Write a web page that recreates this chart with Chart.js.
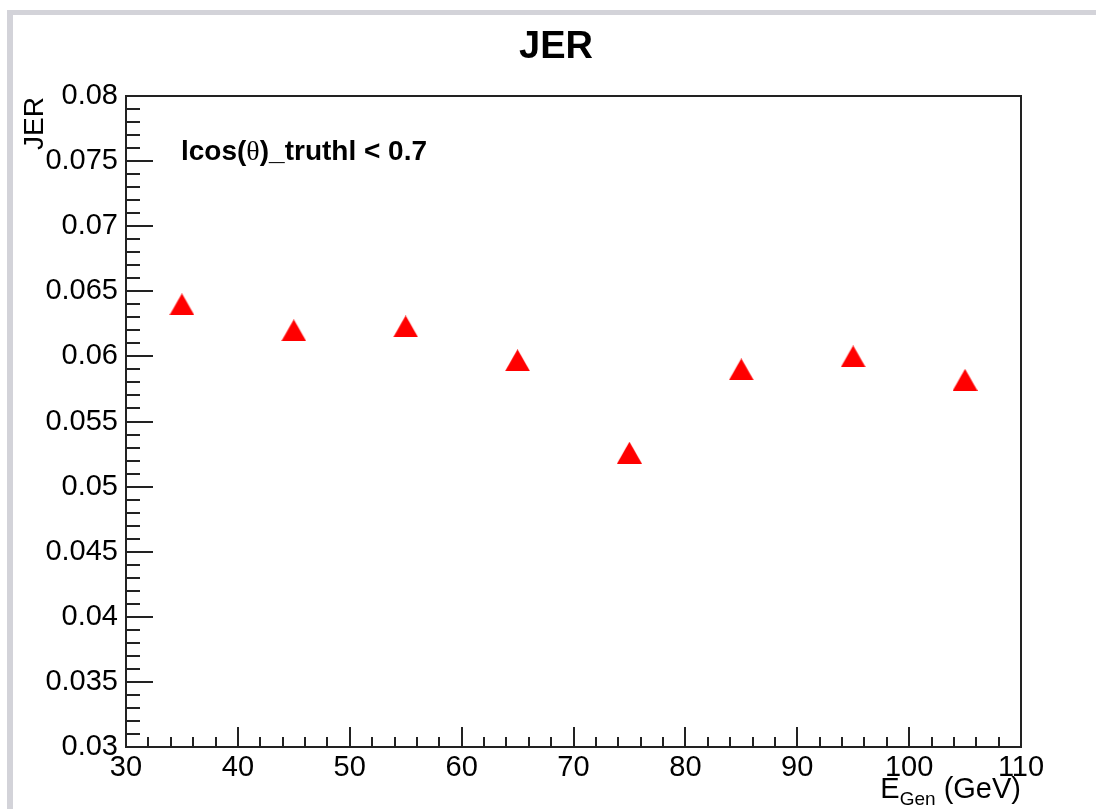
<!DOCTYPE html>
<html>
<head>
<meta charset="utf-8">
<title>JER</title>
<script src="https://cdn.jsdelivr.net/npm/chart.js@4.4.1/dist/chart.umd.min.js"></script>
<style>
  html, body { margin: 0; padding: 0; background: #fff; }
  #contenedor { position: relative; width: 1096px; height: 809px; }
</style>
</head>
<body>
<div id="contenedor"><canvas id="grafico-jer"></canvas></div>
<script>
// Datos: energía generada (GeV) y resolución en energía del jet
const energias = [35, 45, 55, 65, 75, 85, 95, 105];
const valoresJer = [0.0640, 0.0620, 0.0623, 0.0597, 0.0526, 0.0590, 0.0600, 0.0582];

// Marcas de los ejes
const ticksX = [30, 40, 50, 60, 70, 80, 90, 100, 110];
const ticksY = [0.03, 0.035, 0.04, 0.045, 0.05, 0.055, 0.06, 0.065, 0.07, 0.075, 0.08];
const etiquetasY = ['0.03', '0.035', '0.04', '0.045', '0.05', '0.055', '0.06', '0.065', '0.07', '0.075', '0.08'];

const tituloGrafico = 'JER';
const tituloEjeY = 'JER';

document.addEventListener('DOMContentLoaded', function() {
    const lienzo = document.getElementById('grafico-jer');
    const fuente = '"Liberation Sans", Arial, Helvetica, sans-serif';
    const colorMarco = '#222';

    // Triángulo rojo como marcador (centrado en su caja)
    function crearTriangulo() {
        const c = document.createElement('canvas');
        c.width = 25;
        c.height = 22;
        const g = c.getContext('2d');
        g.fillStyle = '#f00';
        g.beginPath();
        g.moveTo(12.5, 0);
        g.lineTo(25, 22);
        g.lineTo(0, 22);
        g.closePath();
        g.fill();
        return c;
    }

    // Fondo, marco, marcas interiores y textos al estilo ROOT
    const marcoRoot = {
        id: 'marcoRoot',
        beforeDraw(chart) {
            const ctx = chart.ctx;
            ctx.save();
            ctx.fillStyle = '#fff';
            ctx.fillRect(0, 0, chart.width, chart.height);
            ctx.fillStyle = '#d3d3d9';
            ctx.fillRect(7, 10, chart.width - 7, 5);
            ctx.fillRect(7, 10, 6, chart.height - 10);
            ctx.restore();
        },
        afterDraw(chart) {
            const ctx = chart.ctx;
            const a = chart.chartArea;
            const x = chart.scales.x;
            const y = chart.scales.y;
            ctx.save();

            ctx.strokeStyle = colorMarco;
            ctx.lineWidth = 2;
            ctx.strokeRect(a.left, a.top, a.right - a.left, a.bottom - a.top);

            // marcas hacia dentro: principales y secundarias
            ctx.beginPath();
            for (let v = x.min; v <= x.max + 1e-9; v += 2) {
                const px = Math.round(x.getPixelForValue(v));
                const largo = Math.abs(v % 10) < 1e-9 ? 20 : 10;
                ctx.moveTo(px, a.bottom);
                ctx.lineTo(px, a.bottom - largo);
            }
            for (let i = 0; i <= 50; i++) {
                const py = Math.round(y.getPixelForValue(y.min + i * 0.001));
                const largo = i % 5 === 0 ? 27 : 14;
                ctx.moveTo(a.left, py);
                ctx.lineTo(a.left + largo, py);
            }
            ctx.stroke();

            ctx.fillStyle = '#000';
            ctx.textBaseline = 'alphabetic';

            // título
            ctx.font = 'bold 38px ' + fuente;
            ctx.textAlign = 'center';
            ctx.fillText(tituloGrafico, 556, 58);

            // texto del corte angular
            ctx.textAlign = 'left';
            let cx = 181;
            const partes = [
                ['lcos(', 'bold 28px ' + fuente],
                ['\u03b8', '28px "Liberation Serif", "Times New Roman", serif'],
                [')_truthl < 0.7', 'bold 28px ' + fuente]
            ];
            partes.forEach(([txt, f]) => {
                ctx.font = f;
                ctx.fillText(txt, cx, 160);
                cx += ctx.measureText(txt).width;
            });

            // título del eje X con subíndice
            const fGrande = '29px ' + fuente;
            const fSub = '19px ' + fuente;
            ctx.font = fGrande;
            const wE = ctx.measureText('E').width;
            const wResto = ctx.measureText(' (GeV)').width;
            ctx.font = fSub;
            const wSub = ctx.measureText('Gen').width;
            let ex = a.right - (wE + wSub + wResto);
            ctx.font = fGrande;
            ctx.fillText('E', ex, 798);
            ex += wE;
            ctx.font = fSub;
            ctx.fillText('Gen', ex, 805);
            ex += wSub;
            ctx.font = fGrande;
            ctx.fillText(' (GeV)', ex, 798);

            // título del eje Y, girado
            ctx.translate(43, a.top + 1);
            ctx.rotate(-Math.PI / 2);
            ctx.textAlign = 'right';
            ctx.font = '28px ' + fuente;
            ctx.fillText(tituloEjeY, 0, 0);

            ctx.restore();
        }
    };

    new Chart(lienzo, {
        type: 'scatter',
        data: {
            datasets: [{
                label: tituloGrafico,
                data: energias.map((e, i) => ({ x: e, y: valoresJer[i] })),
                pointStyle: crearTriangulo(),
                pointRadius: 12,
                showLine: false
            }]
        },
        options: {
            responsive: true,
            maintainAspectRatio: false,
            animation: false,
            layout: { padding: { top: 96, right: 75, left: 0, bottom: 0 } },
            plugins: {
                legend: { display: false },
                title: { display: false },
                tooltip: { enabled: false }
            },
            scales: {
                x: {
                    type: 'linear',
                    min: ticksX[0],
                    max: ticksX[ticksX.length - 1],
                    afterBuildTicks: s => { s.ticks = ticksX.map(v => ({ value: v })); },
                    afterFit: s => { s.height = 62; },
                    grid: { display: false, drawTicks: false },
                    border: { display: true, color: colorMarco, width: 2 },
                    ticks: {
                        color: '#000',
                        font: { family: fuente, size: 29 },
                        padding: 4,
                        maxRotation: 0,
                        autoSkip: false
                    }
                },
                y: {
                    type: 'linear',
                    min: ticksY[0],
                    max: ticksY[ticksY.length - 1],
                    afterBuildTicks: s => { s.ticks = ticksY.map(v => ({ value: v })); },
                    afterFit: s => { s.width = 126; },
                    grid: { display: false, drawTicks: false },
                    border: { display: true, color: colorMarco, width: 2 },
                    ticks: {
                        color: '#000',
                        font: { family: fuente, size: 29 },
                        padding: 8,
                        autoSkip: false,
                        callback: function(valor, i) {
                            return etiquetasY[i];
                        }
                    }
                }
            }
        },
        plugins: [marcoRoot]
    });
});
</script>
</body>
</html>
